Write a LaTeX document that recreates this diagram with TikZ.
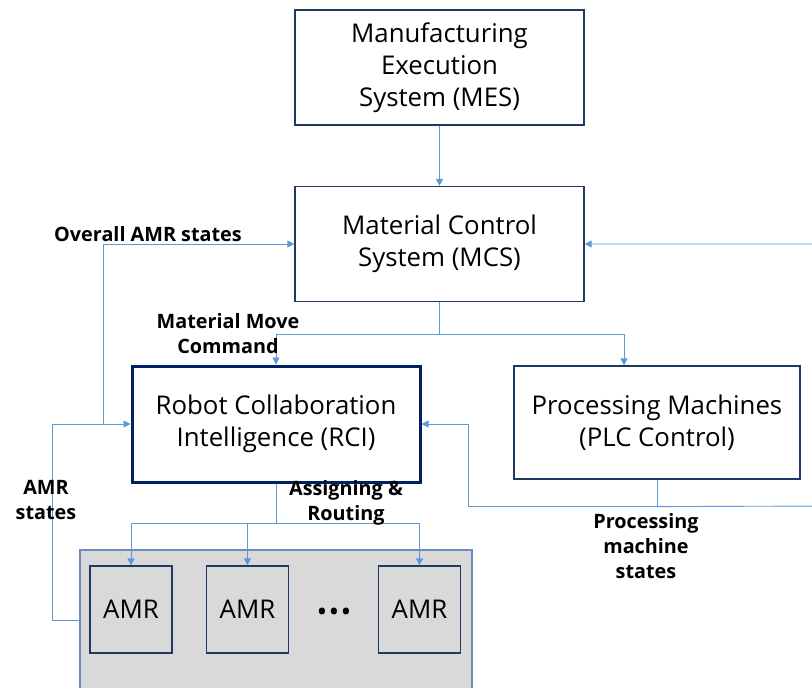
\documentclass[tikz,border=0pt]{standalone}
\usepackage{fontspec}
\setmainfont{Open Sans}
\usetikzlibrary{positioning,arrows.meta,calc}

\definecolor{linkblue}{HTML}{5B9BD5}
\definecolor{boxnavy}{HTML}{1F3864}
\definecolor{rcinavy}{HTML}{002060}
\definecolor{fleetgray}{HTML}{D9D9D9}
\definecolor{fleetedge}{HTML}{6C8EBF}

\begin{document}
\begin{tikzpicture}[x=1pt, y=-1pt, font=\fontsize{25.8}{32}\selectfont,
  every node/.style={align=center},
  sysbox/.style={draw=boxnavy, line width=1.2pt, fill=white, inner sep=0pt,
    minimum width=289pt, minimum height=115pt},
  amrbox/.style={draw=boxnavy, line width=1.2pt, inner sep=0pt,
    minimum width=82pt, minimum height=87pt},
  link/.style={draw=linkblue, line width=0.9pt, -{Triangle[length=7pt,width=7pt]}},
  flowlabel/.style={font=\fontsize{19.8}{25}\selectfont\bfseries}]
  \useasboundingbox (0,0) rectangle (812,688);
  \clip (0,0) rectangle (812,688);

  % systems
  \node[sysbox] (mes) at (439.5,67.5) {Manufacturing\\Execution\\System (MES)};
  \node[sysbox] (mcs) at (439.5,244) {Material Control\\System (MCS)};
  \node[sysbox, draw=rcinavy, line width=3pt, minimum width=288pt, minimum height=116pt]
    (rci) at (276,424) {Robot Collaboration\\Intelligence (RCI)};
  \node[sysbox, minimum width=286pt, minimum height=113pt]
    (plc) at (657,422.5) {Processing Machines\\(PLC Control)};

  % AMR fleet
  \node[draw=fleetedge, line width=1.5pt, fill=fleetgray, minimum width=392pt,
    minimum height=140pt] (fleet) at (276,620) {};
  \node[amrbox] (amr1) at (131,609.5) {AMR};
  \node[amrbox] (amr2) at (247.5,609.5) {AMR};
  \node[amrbox] (amr3) at (419.5,609.5) {AMR};
  \node[font=\fontsize{22}{32}\selectfont\bfseries] (dots) at (334,614)
    {\textbullet\,\textbullet\,\textbullet};

  % connectors
  \draw[link] (mes.south) -- (mcs.north);
  \coordinate (cmdbus) at (439.5,334);
  \draw[link] (mcs.south) -- (cmdbus) -| (rci.north);
  \draw[link] (cmdbus) -| ([xshift=-33pt]plc.north);
  \coordinate (routebus) at (276,523);
  \draw[link, -] (rci.south) -- (routebus);
  \draw[link] (routebus) -| (amr1.north);
  \draw[link] (routebus) -| (amr2.north);
  \draw[link] (routebus) -| (amr3.north);
  \coordinate (statetap) at ($(rci.west)+(-27,0)$);
  \draw[link] (fleet.west) -- ++(-27,0) |- (rci.west);
  \draw[link] (statetap) |- (mcs.west);
  \coordinate (plcbus) at ($(plc.south)+(0,27)$);
  \draw[link] (plc.south) -- (plcbus) -| ($(rci.east)+(47,0)$) -- (rci.east);
  \draw[link] (plcbus) -- (830,506) |- (mcs.east);

  % labels
  \node[flowlabel] (overall) at (148,234) {Overall AMR states};
  \node[flowlabel] (command) at (228,334) {Material Move\\Command};
  \node[flowlabel] (routing) at (346,503) {Assigning \&\\Routing};
  \node[flowlabel] (amrstates) at (46,500) {AMR\\states};
  \node[flowlabel] (plcstates) at (646,546) {Processing\\machine\\states};
\end{tikzpicture}
\end{document}
